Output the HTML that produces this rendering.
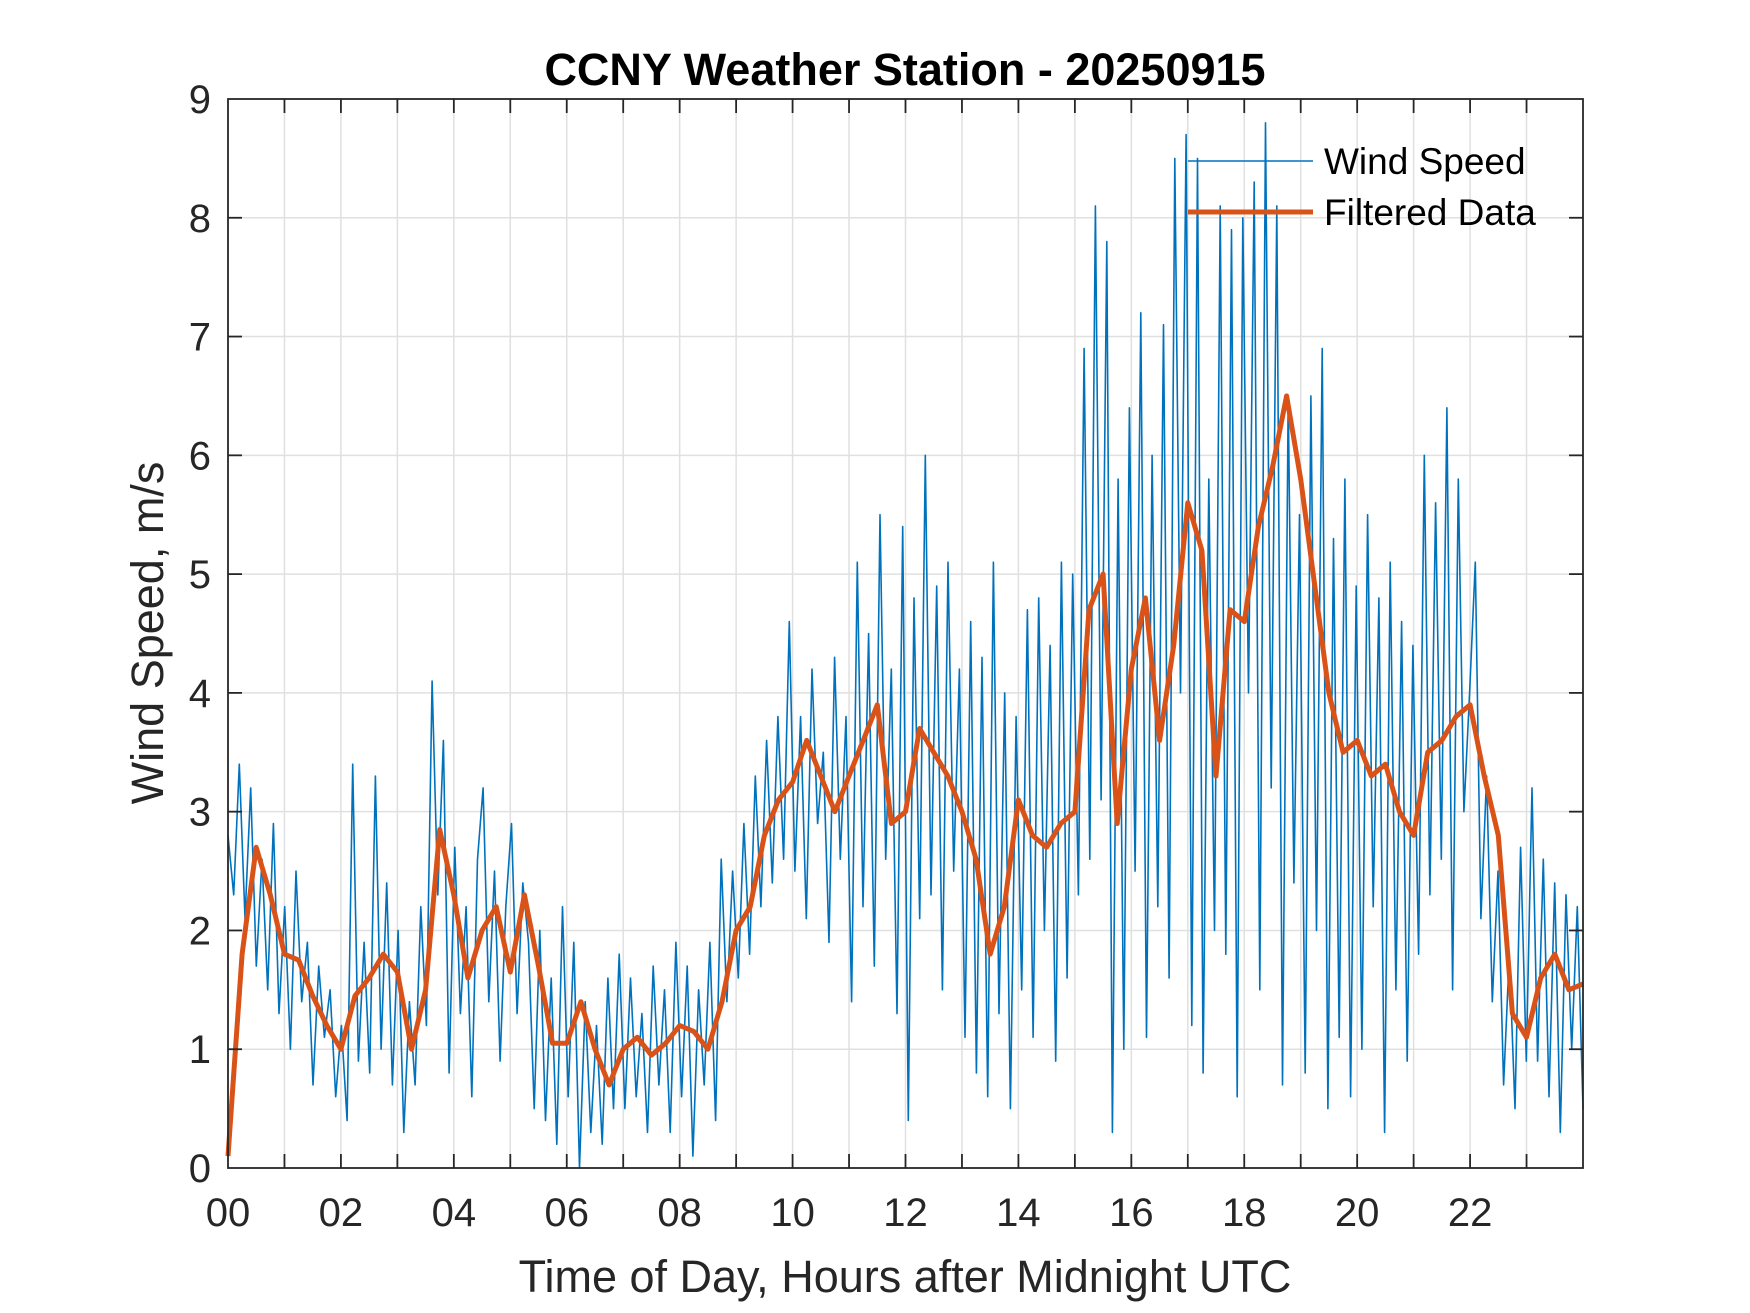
<!DOCTYPE html>
<html><head><meta charset="utf-8"><style>
html,body{margin:0;padding:0;background:#fff;}
svg{display:block;font-family:"Liberation Sans",Arial,sans-serif;}
</style></head><body>
<svg id="chart" width="1750" height="1313" viewBox="0 0 1750 1313" xmlns="http://www.w3.org/2000/svg">
<rect width="1750" height="1313" fill="#fff"/>
<g id="grid"></g>
<g id="plot"></g>
<g id="axes"></g>
<text x="905" y="85" text-anchor="middle" font-size="45" font-weight="bold" fill="#000">CCNY Weather Station - 20250915</text>
<text x="905" y="1292" text-anchor="middle" font-size="45" fill="#262626">Time of Day, Hours after Midnight UTC</text>
<text transform="translate(163,633) rotate(-90)" text-anchor="middle" font-size="45" fill="#262626">Wind Speed, m/s</text>
<g>
<line x1="1188" y1="161" x2="1313" y2="161" stroke="#0072BD" stroke-width="1.5"/>
<text x="1324" y="174" font-size="37" fill="#000">Wind Speed</text>
<line x1="1188" y1="212" x2="1313" y2="212" stroke="#D95319" stroke-width="5"/>
<text x="1324" y="225" font-size="37" fill="#000">Filtered Data</text>
</g>
</svg>
<script>
const rawValues = [
2.8,2.3,3.4,2.1,3.2,1.7,2.6,1.5,2.9,1.3,
2.2,1.0,2.5,1.4,1.9,0.7,1.7,1.1,1.5,0.6,
1.2,0.4,3.4,0.9,1.9,0.8,3.3,1.0,2.4,0.7,
2.0,0.3,1.4,0.7,2.2,1.2,4.1,2.3,3.6,0.8,
2.7,1.3,2.2,0.6,2.6,3.2,1.4,2.5,0.9,2.2,
2.9,1.3,2.4,1.9,0.5,2.0,0.4,1.6,0.2,2.2,
0.6,1.9,0.0,1.4,0.3,1.2,0.2,1.6,0.5,1.8,
0.5,1.6,0.6,1.3,0.3,1.7,0.7,1.5,0.3,1.9,
0.6,1.7,0.1,1.5,0.7,1.9,0.4,2.6,1.4,2.5,
1.6,2.9,1.8,3.3,2.2,3.6,2.4,3.8,2.6,4.6,
2.5,3.8,2.1,4.2,2.9,3.5,1.9,4.3,2.6,3.8,
1.4,5.1,2.2,4.5,1.7,5.5,2.6,4.2,1.3,5.4,
0.4,4.8,2.1,6.0,2.3,4.9,1.5,5.1,2.5,4.2,
1.1,4.6,0.8,4.3,0.6,5.1,1.3,4.0,0.5,3.8,
1.5,4.7,1.1,4.8,2.0,4.4,0.9,5.1,1.6,5.0,
2.3,6.9,2.6,8.1,3.1,7.8,0.3,5.8,1.0,6.4,
2.5,7.2,1.1,6.0,2.2,7.1,1.6,8.5,4.0,8.7,
1.2,8.5,0.8,5.8,2.0,8.1,1.8,7.9,0.6,8.0,
4.0,8.3,1.5,8.8,3.2,8.1,0.7,6.5,2.4,5.5,
0.8,6.5,2.0,6.9,0.5,5.3,1.1,5.8,0.6,4.9,
1.0,5.5,2.2,4.8,0.3,5.1,1.5,4.6,0.9,4.4,
1.8,6.0,2.3,5.6,2.6,6.4,1.5,5.8,3.0,4.0,
5.1,2.1,3.3,1.4,2.5,0.7,1.8,0.5,2.7,0.9,
3.2,0.9,2.6,0.6,2.4,0.3,2.3,1.0,2.2,0.5
];
const filteredValues = [
0.1,1.8,2.7,2.3,1.8,1.75,1.45,1.2,1.0,1.45,1.6,1.8,1.65,1.0,1.5,2.85,
2.3,1.6,2.0,2.2,1.65,2.3,1.7,1.05,1.05,1.4,1.0,0.7,1.0,1.1,0.95,1.05,
1.2,1.15,1.0,1.4,2.0,2.2,2.8,3.1,3.25,3.6,3.3,3.0,3.3,3.6,3.9,2.9,
3.0,3.7,3.5,3.3,3.0,2.6,1.8,2.2,3.1,2.8,2.7,2.9,3.0,4.7,5.0,2.9,
4.2,4.8,3.6,4.4,5.6,5.2,3.3,4.7,4.6,5.4,5.9,6.5,5.8,4.9,4.0,3.5,
3.6,3.3,3.4,3.0,2.8,3.5,3.6,3.8,3.9,3.3,2.8,1.3,1.1,1.6,1.8,1.5,1.55
];
const xTickLabels = ["00","02","04","06","08","10","12","14","16","18","20","22"];
const yTickLabels = ["0","1","2","3","4","5","6","7","8","9"];

const L=228,R=1583,T=99,B=1168,XMAX=24,YMAX=9;
const xs=h=>L+(h/XMAX)*(R-L);
const ys=v=>B-(v/YMAX)*(B-T);
const NS="http://www.w3.org/2000/svg";
function mk(tag,attrs,parent){const e=document.createElementNS(NS,tag);for(const k in attrs)e.setAttribute(k,attrs[k]);parent.appendChild(e);return e;}
const grid=document.getElementById('grid'),plot=document.getElementById('plot'),axes=document.getElementById('axes');

for(let h=1;h<24;h++){
  const g=mk('line',{x1:xs(h),x2:xs(h),y1:T,y2:B,stroke:'#e0e0e0','stroke-width':1.5},grid);
  
  
}
for(let v=1;v<YMAX;v++){
  const g=mk('line',{x1:L,x2:R,y1:ys(v),y2:ys(v),stroke:'#e0e0e0','stroke-width':1.5},grid);
  
  
}

const rawStep=XMAX/(rawValues.length-1);
const rawPts=rawValues.map((v,i)=>xs(i*rawStep).toFixed(1)+','+ys(v).toFixed(1)).join(' ');
const rawLine=mk('polyline',{points:rawPts,fill:'none',stroke:'#0072BD','stroke-width':1.6,'stroke-linejoin':'round'},plot);



const fStep=XMAX/(filteredValues.length-1);
const fPts=filteredValues.map((v,i)=>xs(i*fStep).toFixed(1)+','+ys(v).toFixed(1)).join(' ');
const fLine=mk('polyline',{points:fPts,fill:'none',stroke:'#D95319','stroke-width':5,'stroke-linejoin':'round'},plot);



const box=mk('rect',{x:L,y:T,width:R-L,height:B-T,fill:'none',stroke:'#262626','stroke-width':1.8},axes);


for(let h=1;h<24;h++){
  const t1=mk('line',{x1:xs(h),x2:xs(h),y1:B,y2:B-14,stroke:'#262626','stroke-width':1.8},axes);
  
  
  const t2=mk('line',{x1:xs(h),x2:xs(h),y1:T,y2:T+14,stroke:'#262626','stroke-width':1.8},axes);
  
  
}
xTickLabels.forEach((lab,i)=>{
  const t=mk('text',{x:xs(i*2),y:B+58,'text-anchor':'middle','font-size':40,fill:'#262626'},axes);
  t.textContent=lab;
  
  
});
yTickLabels.forEach((lab,i)=>{
  if(i>0&&i<YMAX){
    const a=mk('line',{x1:L,x2:L+14,y1:ys(i),y2:ys(i),stroke:'#262626','stroke-width':1.8},axes);
    
    
    const b=mk('line',{x1:R,x2:R-14,y1:ys(i),y2:ys(i),stroke:'#262626','stroke-width':1.8},axes);
    
    
  }
  const t=mk('text',{x:L-17,y:ys(i)+14,'text-anchor':'end','font-size':40,fill:'#262626'},axes);
  t.textContent=lab;
  
  
});
</script>
</body></html>
